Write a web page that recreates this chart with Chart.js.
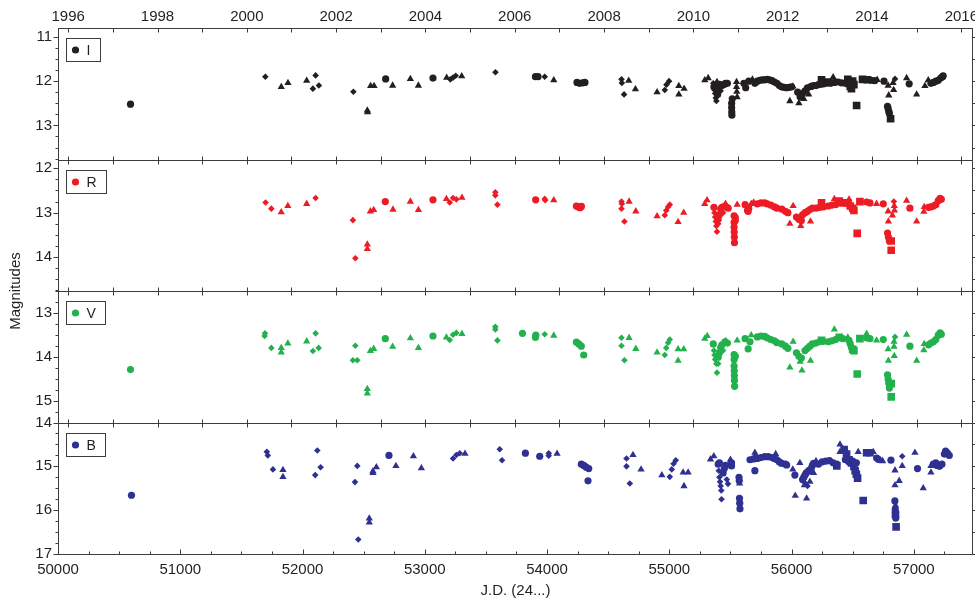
<!DOCTYPE html>
<html>
<head>
<meta charset="utf-8">
<script src="https://cdn.jsdelivr.net/npm/chart.js@4"></script>
<style>
  html, body { margin: 0; padding: 0; background: #ffffff; }
  #wrap { width: 975px; height: 602px; position: relative; }
</style>
</head>
<body>
<div id="wrap"><canvas id="c" width="975" height="602"></canvas></div>
<script>
// ---------------- DATA (J.D. - 2400000, magnitude) ----------------
const bands = ['I', 'R', 'V', 'B'];
const shapes = ['circle', 'diamond', 'triangle', 'square'];

const I_circle = [
  [50593,12.52],[52680,11.95],[53067,11.93],[53905,11.90],[53926,11.90],
  [54245,12.03],[54265,12.05],[54290,12.04],[54310,12.03],
  [55365,12.13],[55395,12.30],[55400,12.15],[55410,12.07],[55430,12.10],[55445,12.08],[55460,12.05],[55475,12.05],
  [55510,12.50],[55510,12.60],[55511,12.70],[55512,12.77],[55515,12.40],
  [55610,12.05],[55625,12.15],[55650,12.00],[55700,12.05],[55720,12.00],[55740,11.98],[55760,11.97],
  [55780,11.97],[55800,11.96],[55820,11.97],[55840,11.99],[55860,12.02],[55880,12.05],
  [55900,12.10],[55920,12.13],[55940,12.14],[55960,12.15],[55980,12.14],[56000,12.13],
  [56050,12.25],[56070,12.35],[56090,12.28],[56110,12.22],[56130,12.15],
  [56160,12.12],[56180,12.10],[56200,12.10],[56220,12.08],[56240,12.07],[56260,12.06],[56280,12.05],
  [56300,12.04],[56320,12.05],[56350,12.03],[56380,12.02],[56410,12.04],[56440,12.05],
  [56650,11.98],[56680,11.99],[56756,12.00],
  [56785,12.57],[56790,12.62],[56795,12.68],[56800,12.73],
  [56962,12.06],
  [57140,12.05],[57160,12.03],[57180,12.00],[57200,11.98],[57220,11.93],[57235,11.90],[57240,11.88]
];
const I_diamond = [
  [51696,11.90],[52085,12.17],[52107,11.87],[52134,12.10],[52416,12.24],
  [53209,11.96],[53231,11.92],[53253,11.88],[53578,11.80],[53981,11.90],
  [54609,11.96],[54612,12.04],[54630,12.30],
  [54963,12.20],[54977,12.08],[54998,12.00],
  [55360,12.05],[55370,12.20],[55375,12.28],[55380,12.38],[55385,12.45],[55420,12.22],
  [56080,12.32],[56846,11.95]
];
const I_triangle = [
  [51826,12.13],[51881,12.04],[52034,11.99],[52530,12.66],[52532,12.70],[52557,12.11],[52585,12.11],
  [52737,12.10],[52882,11.95],[52948,12.10],[53179,11.92],[53302,11.89],
  [54055,11.98],[54668,11.99],[54723,12.18],[54900,12.25],[55078,12.11],[55078,12.30],[55121,12.17],
  [55290,11.98],[55318,11.93],[55390,12.02],
  [55550,12.02],[55550,12.13],[55552,12.24],[55555,12.36],
  [55680,11.96],[56011,12.12],[55986,12.45],[56060,12.50],[56100,12.40],[56140,12.30],
  [56340,11.91],[56700,11.97],[56790,12.10],[56795,12.32],[56830,12.04],[56835,12.20],
  [56941,11.93],[57023,12.30],[57091,12.11],[57118,11.98]
];
const I_square = [
  [56245,11.97],[56300,12.02],[56460,11.96],[56470,12.05],[56480,12.12],[56490,12.17],[56500,12.00],
  [56510,12.08],[56532,12.55],[56580,11.96],[56620,11.97],[56810,12.85]
];

const R_circle = [
  [52677,12.75],[53067,12.71],[53907,12.71],
  [54240,12.85],[54255,12.87],[54270,12.89],[54281,12.86],
  [55365,12.88],[55400,13.15],[55410,13.05],[55420,12.92],[55430,12.88],[55455,12.85],[55470,12.88],[55481,12.90],
  [55530,13.07],[55530,13.22],[55530,13.33],[55531,13.44],[55532,13.55],[55533,13.68],[55540,13.11],[55540,13.18],
  [55620,12.82],[55640,12.95],[55645,12.97],[55650,12.90],
  [55720,12.80],[55750,12.78],[55780,12.78],[55800,12.80],[55830,12.83],[55860,12.87],[55880,12.90],
  [55920,12.92],[55950,12.97],[55970,13.00],
  [56040,13.10],[56060,13.15],[56080,13.18],[56090,13.05],
  [56110,13.00],[56130,12.97],[56150,12.93],[56170,12.90],[56200,12.90],[56230,12.88],[56260,12.87],
  [56300,12.85],[56330,12.83],[56360,12.82],
  [56614,12.76],[56641,12.78],[56750,12.80],
  [56785,13.46],[56792,13.55],[56800,13.64],
  [56968,12.90],
  [57120,12.88],[57140,12.87],[57160,12.85],[57180,12.82],[57200,12.73],[57215,12.68],[57225,12.70]
];
const R_diamond = [
  [51698,12.77],[51745,12.91],[52107,12.67],[52412,13.17],[52432,14.03],
  [53204,12.77],[53231,12.67],[53258,12.70],[53577,12.54],[53577,12.61],[53594,12.82],
  [53981,12.69],[53985,12.72],
  [54609,12.75],[54609,12.91],[54612,12.80],[54633,13.20],
  [54963,13.06],[54975,12.95],[54990,12.87],[55004,12.82],
  [55370,13.00],[55375,13.10],[55380,13.20],[55385,13.30],[55390,13.43],[55400,13.25],[55440,13.00],
  [56837,12.75]
];
const R_triangle = [
  [51826,12.99],[51880,12.85],[52034,12.80],[52530,13.72],[52530,13.82],[52555,12.97],[52582,12.94],
  [52740,12.93],[52882,12.75],[52948,12.94],[53177,12.69],[53304,12.66],
  [54055,12.72],[54671,12.75],[54726,12.97],
  [54900,13.08],[55072,13.21],[55118,13.00],[55290,12.80],[55309,12.72],[55460,12.80],
  [55555,12.82],[55670,12.80],[55690,12.77],
  [55986,13.25],[56013,12.85],[56075,13.30],[56155,13.20],
  [56350,12.69],[56470,12.70],[56695,12.80],
  [56790,12.97],[56792,13.20],[56825,13.06],[56840,12.85],[56842,12.95],
  [56941,12.73],[57023,13.20],[57082,12.98],[57085,12.87]
];
const R_square = [
  [56245,12.78],[56390,12.74],[56420,12.78],[56460,12.78],[56480,12.85],[56500,12.90],[56510,12.95],
  [56537,13.47],[56559,12.75],[56815,13.64],[56815,13.85]
];

const V_circle = [
  [50593,14.28],[52677,13.58],[53067,13.52],[53799,13.46],[53905,13.55],[53908,13.50],
  [54240,13.66],[54260,13.70],[54280,13.75],[54300,13.95],
  [55360,13.70],[55400,14.00],[55410,13.90],[55420,13.78],[55430,13.72],[55455,13.65],[55475,13.68],
  [55530,13.94],[55530,14.05],[55530,14.20],[55531,14.31],[55532,14.42],[55533,14.53],[55534,14.66],[55540,13.98],
  [55620,13.58],[55645,13.81],[55660,13.65],
  [55720,13.54],[55750,13.52],[55780,13.53],[55800,13.56],[55830,13.60],[55860,13.63],[55880,13.67],
  [55920,13.70],[55950,13.75],[55970,13.80],
  [56040,13.90],[56060,13.98],[56080,14.02],
  [56110,13.85],[56130,13.80],[56150,13.75],[56170,13.70],[56200,13.68],[56230,13.65],[56260,13.64],
  [56300,13.65],[56330,13.63],[56360,13.60],[56420,13.58],[56470,13.62],[56480,13.70],[56490,13.78],
  [56614,13.56],[56641,13.58],[56750,13.60],
  [56785,14.40],[56790,14.50],[56795,14.59],[56800,14.70],
  [56968,13.75],
  [57120,13.72],[57140,13.68],[57160,13.65],[57180,13.60],[57200,13.50],[57215,13.45],[57225,13.48]
];
const V_diamond = [
  [51690,13.52],[51693,13.46],[51745,13.79],[52085,13.86],[52107,13.46],[52132,13.79],
  [52412,14.07],[52448,14.07],[52432,13.74],
  [53204,13.61],[53231,13.49],[53258,13.45],[53577,13.31],[53577,13.37],[53594,13.62],[53981,13.48],
  [54609,13.56],[54609,13.74],[54633,14.07],
  [54963,13.95],[54975,13.79],[54990,13.67],[55004,13.60],
  [55365,13.85],[55370,13.95],[55375,14.05],[55385,14.15],[55390,14.35],[55400,14.15],[55440,13.85],
  [56846,13.54]
];
const V_triangle = [
  [51826,13.79],[51826,13.89],[51880,13.69],[52034,13.64],[52530,14.72],[52530,14.82],[52555,13.86],[52582,13.81],
  [52737,13.76],[52882,13.57],[52948,13.79],[53177,13.55],[53304,13.47],
  [54055,13.51],[54671,13.56],[54726,13.81],
  [54900,13.89],[55072,13.82],[55072,14.08],[55118,13.82],[55290,13.58],[55310,13.52],[55462,13.63],
  [55555,13.62],[55670,13.50],
  [55986,14.23],[56013,13.65],[56070,14.10],[56085,14.30],[56155,14.08],
  [56350,13.37],[56460,13.55],[56614,13.47],[56695,13.62],
  [56790,13.82],[56792,14.08],[56838,13.65],[56838,13.76],[56840,13.97],
  [56941,13.49],[57023,14.08],[57082,13.84],[57085,13.70]
];
const V_square = [
  [56245,13.62],[56390,13.55],[56500,13.82],[56510,13.85],[56537,14.38],[56559,13.58],[56815,14.60],[56815,14.90]
];

const B_circle = [
  [50601,15.66],[52707,14.75],[53823,14.70],[53940,14.77],
  [54281,14.95],[54300,14.98],[54320,15.02],[54341,15.05],[54335,15.33],
  [55400,14.95],[55410,14.92],[55440,15.15],[55450,15.05],[55460,14.98],[55509,14.92],[55509,14.99],
  [55570,15.25],[55572,15.33],[55574,15.73],[55576,15.84],[55578,15.97],
  [55660,14.85],[55690,14.83],[55700,15.10],[55720,14.82],[55750,14.80],[55780,14.78],[55810,14.78],[55840,14.80],
  [55860,14.82],[55880,14.85],[55900,14.90],[55920,14.93],[55950,14.95],[55960,14.97],[56027,15.20],
  [56090,15.30],[56100,15.25],[56110,15.20],[56120,15.15],[56140,15.10],[56160,15.05],[56170,14.98],[56180,14.93],
  [56220,14.95],[56250,14.90],[56280,14.88],[56310,14.87],[56340,14.92],[56370,14.95],
  [56440,14.85],[56470,14.90],[56500,14.88],[56530,14.92],
  [56696,14.81],[56710,14.84],[56813,14.86],
  [56845,15.79],[56848,15.98],[56850,16.05],[56852,16.18],
  [57030,15.05],
  [57160,14.95],[57180,14.92],[57190,14.98],[57210,15.00],[57230,14.95],[57250,14.72],[57260,14.65],[57275,14.70],[57290,14.75]
];
const B_diamond = [
  [51708,14.67],[51716,14.75],[51758,15.07],[52104,15.20],[52121,14.64],[52148,15.02],
  [52429,15.36],[52448,14.99],[52456,16.67],
  [53231,14.82],[53258,14.74],[53286,14.70],[53613,14.61],[53632,14.86],[54014,14.70],[54014,14.76],
  [54650,14.82],[54650,15.00],[54677,15.39],
  [55004,15.24],[55020,15.07],[55035,14.94],[55053,14.86],
  [55405,15.10],[55410,15.25],[55415,15.35],[55420,15.45],[55425,15.55],[55427,15.75],[55470,15.30],[55480,15.40],
  [56110,15.38],[56130,15.45],[56905,14.77]
];
const B_triangle = [
  [51840,15.08],[51840,15.24],[52546,16.19],[52546,16.28],[52576,15.11],[52576,15.15],[52604,15.02],
  [52764,14.99],[52907,14.77],[52972,15.04],[53329,14.71],[54082,14.71],
  [54703,14.74],[54769,15.07],[54939,15.20],[55113,15.14],[55120,15.45],[55154,15.14],
  [55337,14.84],[55364,14.77],[55500,14.85],
  [55575,15.39],[55700,14.69],[55705,14.75],[55870,14.72],[55920,14.95],
  [56010,15.07],[56030,15.67],[56068,14.92],[56105,15.43],[56123,15.73],[56150,15.35],[56180,15.15],[56200,14.88],
  [56396,14.50],[56396,14.67],[56545,14.67],[56668,14.67],[56745,14.88],
  [56846,15.09],[56846,15.43],[56880,15.33],[56850,15.89],[56905,14.99],
  [57009,14.69],[57077,15.50],[57140,14.99],[57140,15.14]
];
const B_square = [
  [56370,14.99],[56430,14.62],[56450,14.72],[56470,14.85],[56490,14.92],[56510,15.00],[56520,15.10],[56530,15.18],
  [56540,15.27],[56586,15.78],[56614,14.69],[56641,14.69],[56850,16.10],[56855,16.38]
];

// tick labels and axis ranges
const jdTicks = [50000, 51000, 52000, 53000, 54000, 55000, 56000, 57000];
const yearTicks = [1996, 1998, 2000, 2002, 2004, 2006, 2008, 2010, 2012, 2014, 2016];
const magTicksI = [11, 12, 13];
const magTicksR = [12, 13, 14];
const magTicksV = [13, 14, 15];
const magTicksB = [14, 15, 16, 17];
const jdMin = 50000, jdMax = 57484;
const rangeI = [10.8, 13.77];
const rangeR = [11.8, 14.77];
const rangeV = [12.5, 15.48];
const rangeB = [14.0, 17.0];
const xTitle = 'J.D. (24...)';
const yTitle = 'Magnitudes';

// ---------------- STYLE ----------------
const COLORS = { I: '#231f20', R: '#ed1c24', V: '#22b14c', B: '#2e3192' };
const STYLE = {
  circle:   { pointStyle: 'circle',   radius: 3.6 },
  diamond:  { pointStyle: 'rectRot',  radius: 3.3 },
  triangle: { pointStyle: 'triangle', radius: 4.2 },
  square:   { pointStyle: 'rect',     radius: 5.4 }
};
const TXT = '#231f20';
const FRAME = '#3c3c3c';
const FONT = 'Liberation Sans, Arial, sans-serif';

const SERIES = {
  I: { circle: I_circle, diamond: I_diamond, triangle: I_triangle, square: I_square },
  R: { circle: R_circle, diamond: R_diamond, triangle: R_triangle, square: R_square },
  V: { circle: V_circle, diamond: V_diamond, triangle: V_triangle, square: V_square },
  B: { circle: B_circle, diamond: B_diamond, triangle: B_triangle, square: B_square }
};

const datasets = [];
bands.forEach(b => {
  shapes.forEach(s => {
    datasets.push({
      label: b + ' ' + s,
      data: SERIES[b][s].map(([x, y]) => ({ x, y })),
      xAxisID: 'x',
      yAxisID: 'y' + b,
      pointStyle: STYLE[s].pointStyle,
      pointRadius: STYLE[s].radius,
      pointHoverRadius: STYLE[s].radius,
      backgroundColor: COLORS[b],
      borderColor: COLORS[b],
      borderWidth: 0,
      showLine: false
    });
  });
});

const jdToYear = jd => 2000 + (jd - 51544.5) / 365.25;
const isWhole = (v, step) => Math.abs(v / step - Math.round(v / step)) < 1e-6;
const setTicks = list => s => { s.ticks = list.map(v => ({ value: v })); };

function yScale(range, tickList) {
  return {
    type: 'linear', position: 'left', stack: 'mag', stackWeight: 1,
    reverse: true, min: range[0], max: range[1], offset: false,
    grid: { display: false, drawTicks: false },
    border: { display: false },
    ticks: {
      padding: 6, color: TXT, autoSkip: false,
      font: { family: FONT, size: 15 },
      callback: v => String(Math.round(v))
    },
    afterBuildTicks: setTicks(tickList),
    afterFit: s => { s.width = 58; }
  };
}

const panelPlugin = {
  id: 'panels',
  afterDraw(chart) {
    const { ctx, chartArea: ca, scales } = chart;
    const xs = scales.x, xt = scales.xTop;
    const L = Math.round(ca.left) + 0.5, R = Math.round(ca.right) - 0.5;
    ctx.save();
    ctx.strokeStyle = FRAME;
    ctx.lineWidth = 1;
    bands.forEach((b, i) => {
      const s = scales['y' + b];
      const T = Math.round(s.top) + 0.5, Bt = Math.round(s.bottom) + 0.5;
      ctx.strokeRect(L, T, R - L, Bt - T);
      ctx.beginPath();
      const lo = Math.min(s.min, s.max), hi = Math.max(s.min, s.max);
      for (let v = Math.ceil(lo * 4 - 1e-6) / 4; v <= hi + 1e-6; v += 0.25) {
        const y = Math.round(s.getPixelForValue(v)) + 0.5;
        const major = isWhole(v, 1);
        ctx.moveTo(L - (major ? 5 : 3), y); ctx.lineTo(L, y);
        if (isWhole(v, 0.5)) { ctx.moveTo(R, y); ctx.lineTo(R + 3, y); }
      }
      for (let yr = 1996; yr <= 2016; yr++) {
        const x = Math.round(xt.getPixelForValue(yr)) + 0.5;
        ctx.moveTo(x, T); ctx.lineTo(x, T + 4);
        if (i < bands.length - 1) { ctx.moveTo(x, Bt); ctx.lineTo(x, Bt - 4); }
      }
      if (i === bands.length - 1) {
        for (let v = jdMin; v <= jdMax; v += 250) {
          const x = Math.round(xs.getPixelForValue(v)) + 0.5;
          ctx.moveTo(x, Bt); ctx.lineTo(x, Bt - (isWhole(v, 1000) ? 5 : 3));
        }
      }
      ctx.stroke();

      // legend box
      ctx.font = '14px ' + FONT;
      const tw = ctx.measureText(b).width;
      const bx = Math.round(ca.left) + 8.5, by = T + 10;
      const bw = Math.round(20 + tw + 10), bh = 23;
      ctx.fillStyle = '#ffffff';
      ctx.fillRect(bx, by, bw, bh);
      ctx.strokeRect(bx, by, bw, bh);
      ctx.fillStyle = COLORS[b];
      ctx.beginPath();
      ctx.arc(bx + 9, by + bh / 2, 3.6, 0, Math.PI * 2);
      ctx.fill();
      ctx.fillStyle = TXT;
      ctx.textAlign = 'left';
      ctx.textBaseline = 'middle';
      ctx.fillText(b, bx + 20, by + bh / 2 + 1);
    });

    ctx.fillStyle = TXT;
    ctx.font = '15px ' + FONT;
    ctx.textAlign = 'center';
    ctx.textBaseline = 'middle';
    ctx.fillText(xTitle, (ca.left + ca.right) / 2, 591);
    ctx.save();
    ctx.translate(16, (ca.top + ca.bottom) / 2);
    ctx.rotate(-Math.PI / 2);
    ctx.fillText(yTitle, 0, 0);
    ctx.restore();
    ctx.restore();
  }
};

const noSidePad = s => { s.paddingLeft = 0; s.paddingRight = 0; };

new Chart(document.getElementById('c').getContext('2d'), {
  type: 'scatter',
  data: { datasets },
  options: {
    responsive: false,
    animation: false,
    devicePixelRatio: 1,
    layout: { autoPadding: false, padding: { left: 0, right: 2, top: 0, bottom: 0 } },
    plugins: { legend: { display: false }, tooltip: { enabled: false } },
    scales: {
      x: {
        type: 'linear', position: 'bottom', min: jdMin, max: jdMax,
        grid: { display: false, drawTicks: false }, border: { display: false },
        ticks: {
          padding: 7, maxRotation: 0, autoSkip: false,
          color: TXT, font: { family: FONT, size: 15 },
          callback: v => String(Math.round(v))
        },
        afterBuildTicks: setTicks(jdTicks),
        afterFit: s => { s.height = 48; noSidePad(s); }
      },
      xTop: {
        type: 'linear', position: 'top', min: jdToYear(jdMin), max: jdToYear(jdMax),
        grid: { display: false, drawTicks: false }, border: { display: false },
        ticks: {
          padding: 2, maxRotation: 0, autoSkip: false,
          color: TXT, font: { family: FONT, size: 15 },
          callback: v => String(Math.round(v))
        },
        afterBuildTicks: setTicks(yearTicks),
        afterFit: s => { s.height = 28; noSidePad(s); }
      },
      yB: yScale(rangeB, magTicksB),
      yV: yScale(rangeV, magTicksV),
      yR: yScale(rangeR, magTicksR),
      yI: yScale(rangeI, magTicksI)
    }
  },
  plugins: [panelPlugin]
});
</script>
</body>
</html>
